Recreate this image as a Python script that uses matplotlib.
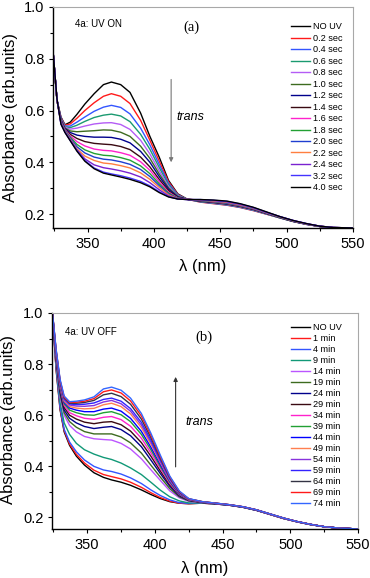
import matplotlib
matplotlib.use("Agg")
import matplotlib.pyplot as plt
from matplotlib.ticker import MultipleLocator

plt.rcParams['font.family'] = ['Liberation Sans', 'DejaVu Sans']

# wavelength grid (nm) shared by all spectra
wl = [324, 327, 330, 333, 337, 342, 348, 355, 362, 368, 375, 382, 390, 397, 404,
      411, 418, 425, 435, 445, 455, 465, 475, 485, 495, 505, 515, 525, 535, 550]

# panel (a): UV ON
labels_a = ['NO UV', '0.2 sec', '0.4 sec', '0.6 sec', '0.8 sec', '1.0 sec', '1.2 sec',
            '1.4 sec', '1.6 sec', '1.8 sec', '2.0 sec', '2.2 sec', '2.4 sec',
            '3.2 sec', '4.0 sec']
spec_a = [
    [0.83, 0.64, 0.575, 0.545, 0.555, 0.585, 0.625, 0.665, 0.70, 0.71, 0.70, 0.67, 0.59, 0.50, 0.42, 0.33, 0.278, 0.258,
     0.252, 0.249, 0.244, 0.234, 0.22, 0.203, 0.186, 0.172, 0.161, 0.153, 0.148, 0.146],
    [0.83, 0.64, 0.572, 0.543, 0.548, 0.57, 0.60, 0.63, 0.655, 0.665, 0.655, 0.627, 0.562, 0.485, 0.405, 0.325, 0.276, 0.257,
     0.246, 0.24, 0.234, 0.225, 0.213, 0.199, 0.185, 0.171, 0.16, 0.152, 0.147, 0.146],
    [0.83, 0.64, 0.57, 0.54, 0.54, 0.555, 0.575, 0.597, 0.613, 0.62, 0.612, 0.587, 0.532, 0.467, 0.392, 0.319, 0.274, 0.257,
     0.247, 0.241, 0.235, 0.226, 0.214, 0.2, 0.185, 0.171, 0.16, 0.152, 0.147, 0.146],
    [0.83, 0.64, 0.568, 0.537, 0.534, 0.543, 0.558, 0.573, 0.582, 0.586, 0.579, 0.557, 0.508, 0.45, 0.38, 0.313, 0.272, 0.257,
     0.248, 0.242, 0.236, 0.227, 0.215, 0.2, 0.185, 0.171, 0.16, 0.152, 0.147, 0.146],
    [0.83, 0.64, 0.566, 0.535, 0.528, 0.532, 0.54, 0.548, 0.552, 0.553, 0.546, 0.527, 0.485, 0.432, 0.367, 0.307, 0.27, 0.257,
     0.249, 0.243, 0.237, 0.228, 0.216, 0.201, 0.186, 0.172, 0.16, 0.152, 0.147, 0.146],
    [0.83, 0.64, 0.564, 0.532, 0.521, 0.518, 0.52, 0.522, 0.525, 0.524, 0.516, 0.5, 0.462, 0.415, 0.355, 0.301, 0.268, 0.257,
     0.249, 0.244, 0.238, 0.229, 0.217, 0.202, 0.186, 0.172, 0.161, 0.152, 0.147, 0.146],
    [0.83, 0.64, 0.562, 0.53, 0.515, 0.505, 0.5, 0.497, 0.497, 0.496, 0.489, 0.475, 0.442, 0.4, 0.345, 0.296, 0.266, 0.257,
     0.25, 0.245, 0.239, 0.23, 0.218, 0.202, 0.187, 0.172, 0.161, 0.152, 0.147, 0.146],
    [0.83, 0.64, 0.56, 0.528, 0.508, 0.492, 0.48, 0.473, 0.47, 0.468, 0.461, 0.449, 0.42, 0.382, 0.334, 0.29, 0.264, 0.257,
     0.251, 0.246, 0.24, 0.231, 0.219, 0.203, 0.187, 0.172, 0.161, 0.152, 0.147, 0.146],
    [0.83, 0.64, 0.558, 0.526, 0.502, 0.48, 0.463, 0.451, 0.446, 0.444, 0.437, 0.427, 0.402, 0.369, 0.325, 0.285, 0.262, 0.257,
     0.252, 0.247, 0.241, 0.232, 0.22, 0.204, 0.188, 0.173, 0.161, 0.152, 0.147, 0.146],
    [0.83, 0.64, 0.556, 0.524, 0.497, 0.469, 0.448, 0.434, 0.427, 0.425, 0.418, 0.408, 0.386, 0.356, 0.317, 0.281, 0.261, 0.257,
     0.252, 0.248, 0.242, 0.233, 0.221, 0.204, 0.188, 0.173, 0.161, 0.152, 0.147, 0.146],
    [0.83, 0.64, 0.554, 0.522, 0.493, 0.46, 0.436, 0.42, 0.412, 0.409, 0.402, 0.392, 0.372, 0.345, 0.31, 0.277, 0.26, 0.257,
     0.253, 0.249, 0.243, 0.234, 0.222, 0.205, 0.189, 0.174, 0.162, 0.153, 0.148, 0.146],
    [0.83, 0.64, 0.552, 0.52, 0.489, 0.452, 0.424, 0.407, 0.397, 0.394, 0.387, 0.378, 0.359, 0.334, 0.303, 0.274, 0.259, 0.257,
     0.254, 0.25, 0.245, 0.235, 0.223, 0.205, 0.189, 0.174, 0.162, 0.153, 0.148, 0.146],
    [0.83, 0.642, 0.55, 0.518, 0.486, 0.448, 0.413, 0.39, 0.379, 0.374, 0.367, 0.358, 0.343, 0.321, 0.294, 0.27, 0.258, 0.256,
     0.255, 0.252, 0.247, 0.237, 0.224, 0.206, 0.19, 0.175, 0.163, 0.153, 0.148, 0.146],
    [0.83, 0.644, 0.548, 0.516, 0.484, 0.445, 0.407, 0.378, 0.362, 0.355, 0.348, 0.339, 0.326, 0.309, 0.286, 0.267, 0.258, 0.256,
     0.256, 0.253, 0.249, 0.239, 0.225, 0.207, 0.19, 0.175, 0.163, 0.153, 0.148, 0.146],
    [0.83, 0.645, 0.547, 0.515, 0.483, 0.443, 0.404, 0.375, 0.358, 0.351, 0.343, 0.334, 0.321, 0.305, 0.283, 0.266, 0.258, 0.256,
     0.256, 0.254, 0.25, 0.24, 0.226, 0.208, 0.19, 0.175, 0.163, 0.153, 0.148, 0.146],
]

# panel (b): UV OFF
labels_b = ['NO UV', '1 min', '4 min', '9 min', '14 min', '19 min', '24 min', '29 min',
            '34 min', '39 min', '44 min', '49 min', '54 min', '59 min', '64 min',
            '69 min', '74 min']
spec_b = [
    [1.02, 0.78, 0.62, 0.535, 0.482, 0.44, 0.405, 0.375, 0.357, 0.347, 0.338, 0.326, 0.308, 0.29, 0.274, 0.262, 0.256, 0.254,
     0.256, 0.253, 0.248, 0.24, 0.228, 0.212, 0.196, 0.183, 0.172, 0.164, 0.159, 0.155],
    [1.02, 0.785, 0.625, 0.54, 0.487, 0.447, 0.413, 0.385, 0.368, 0.36, 0.351, 0.338, 0.318, 0.297, 0.278, 0.264, 0.256, 0.254,
     0.256, 0.253, 0.248, 0.24, 0.228, 0.212, 0.196, 0.183, 0.172, 0.164, 0.159, 0.155],
    [1.02, 0.79, 0.63, 0.545, 0.495, 0.457, 0.425, 0.40, 0.386, 0.38, 0.37, 0.355, 0.333, 0.308, 0.286, 0.269, 0.258, 0.255,
     0.257, 0.253, 0.248, 0.24, 0.228, 0.212, 0.196, 0.183, 0.172, 0.164, 0.159, 0.155],
    [1.02, 0.80, 0.65, 0.57, 0.525, 0.49, 0.465, 0.448, 0.435, 0.427, 0.413, 0.394, 0.368, 0.338, 0.307, 0.281, 0.265, 0.257,
     0.257, 0.253, 0.248, 0.24, 0.228, 0.212, 0.196, 0.183, 0.172, 0.164, 0.159, 0.155],
    [1.02, 0.81, 0.67, 0.60, 0.56, 0.535, 0.517, 0.508, 0.505, 0.503, 0.49, 0.468, 0.43, 0.387, 0.345, 0.304, 0.277, 0.263,
     0.258, 0.254, 0.249, 0.241, 0.229, 0.213, 0.197, 0.184, 0.173, 0.164, 0.159, 0.155],
    [1.02, 0.815, 0.68, 0.61, 0.575, 0.553, 0.536, 0.527, 0.527, 0.527, 0.515, 0.492, 0.452, 0.405, 0.358, 0.313, 0.281, 0.265,
     0.258, 0.254, 0.249, 0.241, 0.229, 0.213, 0.197, 0.184, 0.173, 0.164, 0.159, 0.155],
    [1.02, 0.82, 0.69, 0.62, 0.588, 0.57, 0.556, 0.548, 0.553, 0.556, 0.544, 0.52, 0.477, 0.425, 0.372, 0.322, 0.285, 0.267,
     0.259, 0.254, 0.249, 0.241, 0.229, 0.213, 0.197, 0.184, 0.173, 0.164, 0.159, 0.155],
    [1.02, 0.825, 0.70, 0.63, 0.60, 0.585, 0.573, 0.567, 0.573, 0.575, 0.563, 0.538, 0.493, 0.44, 0.382, 0.328, 0.288, 0.268,
     0.259, 0.254, 0.249, 0.241, 0.229, 0.213, 0.197, 0.184, 0.173, 0.164, 0.159, 0.155],
    [1.02, 0.83, 0.705, 0.638, 0.61, 0.598, 0.588, 0.584, 0.592, 0.595, 0.583, 0.557, 0.51, 0.453, 0.392, 0.333, 0.29, 0.269,
     0.26, 0.255, 0.249, 0.241, 0.229, 0.213, 0.197, 0.184, 0.173, 0.164, 0.159, 0.155],
    [1.02, 0.835, 0.71, 0.645, 0.62, 0.61, 0.602, 0.60, 0.61, 0.614, 0.602, 0.575, 0.525, 0.465, 0.40, 0.338, 0.292, 0.27,
     0.26, 0.255, 0.249, 0.241, 0.229, 0.213, 0.197, 0.184, 0.173, 0.164, 0.159, 0.155],
    [1.02, 0.84, 0.715, 0.65, 0.628, 0.62, 0.614, 0.614, 0.624, 0.628, 0.616, 0.588, 0.537, 0.475, 0.407, 0.342, 0.294, 0.271,
     0.26, 0.255, 0.249, 0.241, 0.229, 0.213, 0.197, 0.184, 0.173, 0.164, 0.159, 0.155],
    [1.02, 0.845, 0.72, 0.655, 0.634, 0.628, 0.625, 0.627, 0.641, 0.647, 0.634, 0.605, 0.552, 0.487, 0.415, 0.346, 0.296, 0.271,
     0.261, 0.255, 0.25, 0.242, 0.23, 0.213, 0.197, 0.184, 0.173, 0.164, 0.159, 0.155],
    [1.02, 0.85, 0.725, 0.66, 0.64, 0.636, 0.635, 0.638, 0.652, 0.658, 0.645, 0.616, 0.562, 0.495, 0.42, 0.349, 0.297, 0.272,
     0.261, 0.255, 0.25, 0.242, 0.23, 0.213, 0.197, 0.184, 0.173, 0.164, 0.159, 0.155],
    [1.02, 0.852, 0.73, 0.665, 0.644, 0.642, 0.643, 0.648, 0.662, 0.667, 0.655, 0.626, 0.572, 0.503, 0.425, 0.352, 0.298, 0.272,
     0.261, 0.256, 0.25, 0.242, 0.23, 0.214, 0.198, 0.184, 0.173, 0.164, 0.159, 0.155],
    [1.02, 0.855, 0.733, 0.668, 0.647, 0.647, 0.65, 0.658, 0.68, 0.686, 0.673, 0.643, 0.585, 0.513, 0.432, 0.356, 0.30, 0.273,
     0.262, 0.256, 0.25, 0.242, 0.23, 0.214, 0.198, 0.184, 0.173, 0.164, 0.159, 0.155],
    [1.02, 0.858, 0.736, 0.671, 0.65, 0.651, 0.655, 0.665, 0.692, 0.699, 0.687, 0.656, 0.597, 0.522, 0.438, 0.359, 0.302, 0.273,
     0.262, 0.256, 0.25, 0.242, 0.23, 0.214, 0.198, 0.184, 0.173, 0.164, 0.159, 0.155],
    [1.02, 0.86, 0.74, 0.675, 0.653, 0.655, 0.66, 0.672, 0.703, 0.71, 0.698, 0.667, 0.607, 0.53, 0.444, 0.362, 0.304, 0.274,
     0.262, 0.256, 0.25, 0.242, 0.23, 0.214, 0.198, 0.184, 0.173, 0.164, 0.159, 0.155],
]

colors_a = ['#000000', '#ff1a1a', '#3355ff', '#1a9a70', '#b45cf5', '#3d6b1f', '#00008c',
            '#3a0a12', '#ff22cc', '#22a033', '#1f3fd0', '#ff7f40', '#7a22d0', '#4433ff', '#000000']
colors_b = ['#000000', '#ff1a1a', '#3355ff', '#119977', '#bb55ff', '#3d6b1f', '#00008c',
            '#3a0a12', '#ff22cc', '#22a033', '#0000ff', '#ff7f50', '#8833dd', '#3322ff', '#333344',
            '#ff1a1a', '#3366ff']

fig = plt.figure(figsize=(3.7, 5.78), dpi=100)
ax_a = fig.add_axes([53 / 370, 1 - 228 / 578, 300 / 370, 221 / 578])
ax_b = fig.add_axes([52 / 370, 1 - 529 / 578, 306 / 370, 216 / 578])


def style_axes(ax, ylo):
    ax.set_xlim(324, 550)
    ax.set_ylim(ylo, 1.0)
    ax.xaxis.set_major_locator(MultipleLocator(50))
    ax.xaxis.set_minor_locator(MultipleLocator(25))
    ax.yaxis.set_major_locator(MultipleLocator(0.2))
    ax.yaxis.set_minor_locator(MultipleLocator(0.1))
    ax.tick_params(which='both', direction='out', top=False, right=False,
                   labelsize=10.5, width=0.8, pad=3)
    ax.tick_params(which='major', length=3.2)
    ax.tick_params(which='minor', length=2)
    for s in ['top', 'right']:
        ax.spines[s].set_color('#a8a8a8')
        ax.spines[s].set_linewidth(0.8)
    for s in ['left', 'bottom']:
        ax.spines[s].set_linewidth(1.0)
    ax.set_xlabel('λ (nm)', fontsize=12)
    ax.set_ylabel('Absorbance (arb.units)', fontsize=12)


# panel (a)
for lab, col, y in zip(labels_a, colors_a, spec_a):
    ax_a.plot(wl, y, color=col, lw=1.0, label=lab)
style_axes(ax_a, 0.146)
ax_a.xaxis.set_label_coords(0.5, -0.14)
ax_a.yaxis.set_label_coords(-0.117, 0.5)
ax_a.legend(loc='upper left', bbox_to_anchor=(0.793, 0.93), frameon=False,
            fontsize=6.6, handlelength=2.1, handletextpad=0.3, labelspacing=0.27,
            borderpad=0, borderaxespad=0)
ax_a.text(0.073, 0.923, '4a: UV ON', transform=ax_a.transAxes, fontsize=7, va='center')
ax_a.text(0.46, 0.91, '(a)', transform=ax_a.transAxes, fontsize=10.5,
          family='Liberation Serif', ha='center', va='center')
ax_a.text(0.413, 0.502, 'trans', transform=ax_a.transAxes, fontsize=9,
          style='italic', va='center')
ax_a.annotate('', xy=(413, 0.40), xytext=(413, 0.72),
              arrowprops=dict(arrowstyle='-|>', color='#777777', lw=0.8,
                              mutation_scale=6, shrinkA=0, shrinkB=0))

# panel (b)
for lab, col, y in zip(labels_b, colors_b, spec_b):
    ax_b.plot(wl, y, color=col, lw=1.0, label=lab)
style_axes(ax_b, 0.155)
ax_b.xaxis.set_label_coords(0.5, -0.148)
ax_b.yaxis.set_label_coords(-0.118, 0.505)
ax_b.legend(loc='upper left', bbox_to_anchor=(0.78, 0.955), frameon=False,
            fontsize=6.6, handlelength=2.1, handletextpad=0.3, labelspacing=0.22,
            borderpad=0, borderaxespad=0)
ax_b.text(0.042, 0.912, '4a: UV OFF', transform=ax_b.transAxes, fontsize=7, va='center')
ax_b.text(0.497, 0.889, '(b)', transform=ax_b.transAxes, fontsize=10.5,
          family='Liberation Serif', ha='center', va='center')
ax_b.text(0.435, 0.495, 'trans', transform=ax_b.transAxes, fontsize=9,
          style='italic', va='center')
ax_b.annotate('', xy=(415.3, 0.75), xytext=(415.3, 0.398),
              arrowprops=dict(arrowstyle='-|>', color='#333333', lw=0.8,
                              mutation_scale=6, shrinkA=0, shrinkB=0))

fig.savefig('out.png', dpi=100)
